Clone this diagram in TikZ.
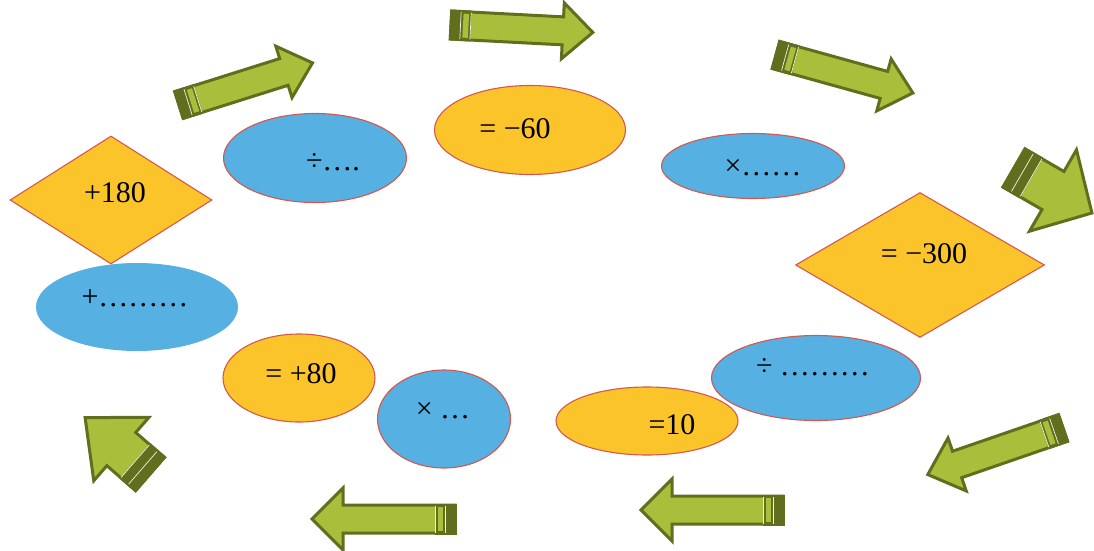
\documentclass[tikz,border=0pt]{standalone}
\usepackage{fontspec}
\setmainfont{Liberation Serif}
\usetikzlibrary{shapes.geometric}
\definecolor{leaf}{RGB}{169,191,60}
\definecolor{bark}{RGB}{96,110,30}
\definecolor{sky}{RGB}{86,176,225}
\definecolor{sun}{RGB}{251,196,42}
\definecolor{rim}{RGB}{212,88,80}
\tikzset{
  bluoval/.style ={ellipse, draw=rim, line width=1.1pt, fill=sky, inner sep=0pt},
  goldoval/.style={ellipse, draw=rim, line width=1.1pt, fill=sun, inner sep=0pt},
  golddia/.style ={diamond, draw=rim, line width=1.1pt, fill=sun, inner sep=0pt},
  numtxt/.style  ={anchor=base, inner sep=0pt, font=\fontsize{30}{32}\selectfont},
  arrbody/.style ={fill=leaf, draw=bark, line width=3pt, line join=miter},
  arrline/.style ={draw=white!85!leaf, line width=0.7pt},
}
% block arrow: tail x, tail y, angle, length, shaft half width, head half width, head length, box fill
\newcommand{\blockarr}[8]{%
  \begin{scope}[shift={(#1,#2)}, rotate=#3]
    \filldraw[arrbody] (0,-#5) -- ({#4-#7},-#5) -- ({#4-#7},-#6) -- (#4,0)
      -- ({#4-#7},#6) -- ({#4-#7},#5) -- (0,#5) -- cycle;
    \fill[bark] (-1.5,-#5-1.5) rectangle (20,#5+1.5);
    \fill[#8] (12,-#5+2) rectangle (17.5,#5-2);
    \draw[arrline] (9.5,-#5+0.5) -- (9.5,#5-0.5) (19.6,-#5+0.5) -- (19.6,#5-0.5);
  \end{scope}}

\begin{document}
\begin{tikzpicture}[x=1pt, y=-1pt]
\useasboundingbox (0,0) rectangle (1094,551);
% --- arrows round the loop ---
\foreach \ax/\ay/\aa/\al/\aw/\ah/\ahl/\ab in {
    179/105/17.5/140/14/27/30/leaf,
    451/25/-3/142/14/28/30/leaf,
    776/55/-15.5/142/14/27/30/leaf,
    1014/168/-30/90/22/47/45/bark,
    150/474/139/86/22/42/48/bark,
    455/519/180/143/14/31/31/leaf,
    783/510/180/142/14/31/31/leaf,
    1063/428/-161/143/14/28/31/leaf} {
  \blockarr{\ax}{\ay}{\aa}{\al}{\aw}{\ah}{\ahl}{\ab}
}
% --- shapes ---
\node[golddia, minimum width=202pt, minimum height=128pt] (d180) at (111,200) {};
\node[bluoval, draw=none, minimum width=202pt, minimum height=88pt] (oadd) at (137,307) {};
\node[bluoval, minimum width=183pt, minimum height=89pt] (odiv) at (315,158) {};
\node[goldoval, minimum width=191pt, minimum height=89pt] (o60) at (530,130) {};
\node[bluoval, minimum width=183pt, minimum height=65pt] (omul) at (753,166) {};
\node[golddia, minimum width=249pt, minimum height=145pt] (d300) at (920,265) {};
\node[bluoval, minimum width=209pt, minimum height=85pt] (odivb) at (816,378) {};
\node[goldoval, minimum width=182pt, minimum height=68pt] (o10) at (647,421) {};
\node[bluoval, minimum width=133pt, minimum height=98pt] (omulb) at (444,419) {};
\node[goldoval, minimum width=152pt, minimum height=88pt] (o80) at (299,378) {};
% --- texts ---
\node[numtxt] (t180) at (115,202) {+180};
\node[numtxt] (tadd) at (135,306) {+………};
\node[numtxt] (tdiv) at (333,170) {÷….};
\node[numtxt] (t60) at (515,138) {= −60};
\node[numtxt] (tmul) at (763,175) {×……};
\node[numtxt] (t300) at (924,263) {= −300};
\node[numtxt] (tdivb) at (813,375) {÷ ………};
\node[numtxt] (t10) at (672,434) {=10};
\node[numtxt] (tmulb) at (443,418) {× …};
\node[numtxt] (t80) at (301,383) {= +80};
\end{tikzpicture}
\end{document}
